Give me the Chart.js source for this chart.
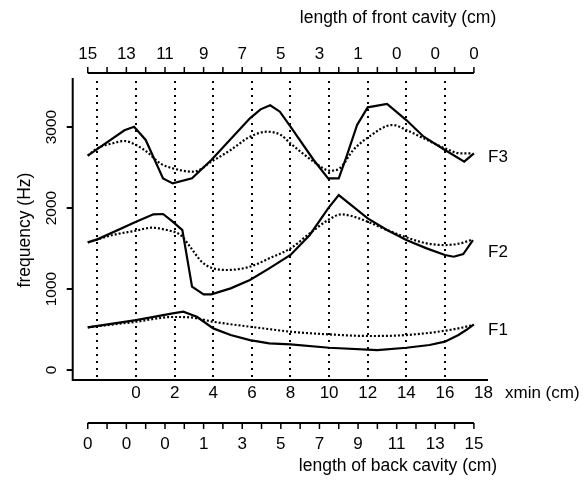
<!DOCTYPE html>
<html><head><meta charset="utf-8">
<script src="https://cdn.jsdelivr.net/npm/chart.js@4.4.0/dist/chart.umd.min.js"></script>
<style>html,body{margin:0;padding:0;background:#fff;}canvas{display:block;}</style>
</head><body>
<canvas id="c" width="584" height="487"></canvas>
<script>
// ---- data (xmin in cm, frequency in Hz) ----
const f3SolidX = [-2.5,-0.6,-0.1,0.5,1.4,1.9,2.9,3.9,5.9,6.45,6.95,7.45,8.0,9.2,9.95,10.5,10.9,11.45,12.0,13.0,14.0,14.9,16.0,17.0,17.5];
const f3SolidY = [2646,2960,3004,2840,2366,2304,2366,2593,3107,3218,3268,3189,3004,2593,2366,2366,2633,3025,3243,3284,3086,2880,2716,2572,2675];
const f3DotX = [-2.5,-2.0,-1.2,-0.6,0.0,0.55,1.25,1.9,3.0,3.9,4.9,5.9,6.8,7.5,8.0,9.2,10.05,10.55,11.25,11.95,13.3,14.0,14.9,16.0,16.8,17.4];
const f3DotY = [2646,2737,2800,2827,2778,2695,2551,2490,2448,2572,2716,2880,2942,2901,2798,2572,2461,2490,2716,2860,3025,2963,2860,2737,2675,2675];
const f2SolidX = [-2.5,-2.0,0.0,0.9,1.4,1.9,2.4,2.9,3.5,3.9,4.9,5.9,6.9,8.0,9.0,9.95,10.5,12.0,13.0,14.0,15.05,16.0,16.45,16.95,17.45];
const f2SolidY = [1576,1613,1831,1922,1926,1831,1728,1029,934,934,1008,1111,1255,1420,1667,1996,2160,1872,1728,1605,1502,1420,1399,1432,1605];
const f2DotX = [-2.5,-1.2,0.0,0.8,1.6,2.3,2.8,3.4,3.9,4.7,5.9,6.9,8.0,9.0,9.95,10.65,11.1,12.0,13.0,14.0,15.05,16.0,16.8,17.45];
const f2DotY = [1576,1667,1720,1757,1728,1667,1522,1337,1263,1235,1276,1379,1502,1687,1852,1922,1905,1831,1728,1638,1564,1543,1564,1613];
const f1SolidX = [-2.5,0.0,1.9,2.45,3.15,4.0,4.9,5.9,6.9,8.0,10.0,12.5,14.0,15.2,16.0,16.7,17.1,17.5];
const f1SolidY = [527,617,700,720,658,514,432,370,329,316,275,247,275,309,350,432,494,564];
const f1DotX = [-2.5,0.0,1.9,2.8,4.0,5.9,7.0,8.0,10.0,12.1,14.0,16.0,16.95,17.45];
const f1DotY = [527,596,655,650,596,535,502,473,440,420,432,485,527,556];

// ---- axes / ticks ----
const yTicks = [0,1000,2000,3000];
const xTicks = [0,2,4,6,8,10,12,14,16,18];
const gridX = [-2,0,2,4,6,8,10,12,14,16];
const cavityLabelPos = [-2.5,-0.5,1.5,3.5,5.5,7.5,9.5,11.5,13.5,15.5,17.5];
const cavityMinorPos = [-1.5,0.5,2.5,4.5,6.5,8.5,10.5,12.5,14.5,16.5];
const frontLabels = ['15','13','11','9','7','5','3','1','0','0','0'];
const backLabels = ['0','0','0','1','3','5','7','9','11','13','15'];
const formantNames = ['F3','F2','F1'];
const formantLabelY = [2620,1450,490];

const FONT = '"Liberation Sans", Arial, Helvetica, sans-serif';
const pts = (xs, ys) => xs.map((x, i) => ({x, y: ys[i]}));

const decor = {
  id: 'decor',
  beforeDatasetsDraw(chart) {
    const ctx = chart.ctx, xs = chart.scales.x, a = chart.chartArea;
    ctx.save();
    ctx.strokeStyle = '#000'; ctx.lineWidth = 2; ctx.setLineDash([2,5]);
    gridX.forEach(v => {
      const px = Math.round(xs.getPixelForValue(v));
      ctx.beginPath(); ctx.moveTo(px, a.top + 3); ctx.lineTo(px, a.bottom); ctx.stroke();
    });
    ctx.restore();
  },
  afterDraw(chart) {
    const ctx = chart.ctx, xs = chart.scales.x, ys = chart.scales.y, a = chart.chartArea;
    ctx.save();
    ctx.strokeStyle = '#000'; ctx.fillStyle = '#000'; ctx.lineWidth = 2; ctx.setLineDash([]);
    // main axes
    ctx.beginPath();
    ctx.moveTo(a.left, a.top); ctx.lineTo(a.left, a.bottom); ctx.lineTo(a.right, a.bottom);
    ctx.stroke();
    // y ticks & labels
    ctx.font = '15.5px ' + FONT; ctx.textAlign = 'center'; ctx.textBaseline = 'middle';
    yTicks.forEach(v => {
      const py = ys.getPixelForValue(v);
      ctx.beginPath(); ctx.moveTo(a.left - 6, py); ctx.lineTo(a.left, py); ctx.stroke();
      ctx.save(); ctx.translate(52, py); ctx.rotate(-Math.PI/2); ctx.fillText(String(v), 0, 0); ctx.restore();
    });
    // x tick labels
    ctx.font = '17px ' + FONT;
    xTicks.forEach(v => ctx.fillText(String(v), xs.getPixelForValue(v), 393));
    ctx.textAlign = 'left';
    ctx.fillText('xmin (cm)', 505, 393);
    // cavity axes
    const drawCav = (yLine, dir, labels, labelY) => {
      const x0 = xs.getPixelForValue(cavityLabelPos[0]);
      const x1 = xs.getPixelForValue(cavityLabelPos[cavityLabelPos.length-1]);
      ctx.beginPath(); ctx.moveTo(x0, yLine); ctx.lineTo(x1, yLine); ctx.stroke();
      ctx.lineWidth = 1.5;
      cavityLabelPos.concat(cavityMinorPos).forEach(v => {
        const px = xs.getPixelForValue(v);
        ctx.beginPath(); ctx.moveTo(px, yLine); ctx.lineTo(px, yLine + dir*6); ctx.stroke();
      });
      ctx.lineWidth = 2;
      ctx.textAlign = 'center';
      cavityLabelPos.forEach((v, i) => ctx.fillText(labels[i], xs.getPixelForValue(v), labelY));
    };
    drawCav(73, -1, frontLabels, 54);
    drawCav(423, 1, backLabels, 444);
    // titles
    ctx.font = '17.5px ' + FONT; ctx.textAlign = 'center';
    ctx.fillText('length of front cavity (cm)', 398, 18);
    ctx.fillText('length of back cavity (cm)', 398, 466);
    ctx.save(); ctx.translate(25, 230); ctx.rotate(-Math.PI/2); ctx.fillText('frequency (Hz)', 0, 0); ctx.restore();
    // formant labels
    ctx.font = '17px ' + FONT; ctx.textAlign = 'left';
    formantNames.forEach((n, i) => ctx.fillText(n, 488, ys.getPixelForValue(formantLabelY[i])));
    ctx.restore();
  }
};

const solid = (d) => ({data: d, borderColor: '#000', borderWidth: 2.2, pointRadius: 0, tension: 0, fill: false});
const dotted = (d) => ({data: d, borderColor: '#000', borderWidth: 2.2, borderDash: [2,2], pointRadius: 0, cubicInterpolationMode: 'monotone', fill: false});

new Chart(document.getElementById('c'), {
  type: 'line',
  data: { datasets: [
    solid(pts(f3SolidX, f3SolidY)), dotted(pts(f3DotX, f3DotY)),
    solid(pts(f2SolidX, f2SolidY)), dotted(pts(f2DotX, f2DotY)),
    solid(pts(f1SolidX, f1SolidY)), dotted(pts(f1DotX, f1DotY))
  ]},
  options: {
    responsive: false, animation: false, devicePixelRatio: 1,
    layout: { padding: { left: 72.7, right: 96, top: 78, bottom: 107 } },
    plugins: { legend: {display: false}, tooltip: {enabled: false} },
    scales: {
      x: { type: 'linear', min: -3.28, max: 18.23, display: false },
      y: { type: 'linear', min: -123, max: 3605, display: false }
    }
  },
  plugins: [decor]
});
</script>
</body></html>
